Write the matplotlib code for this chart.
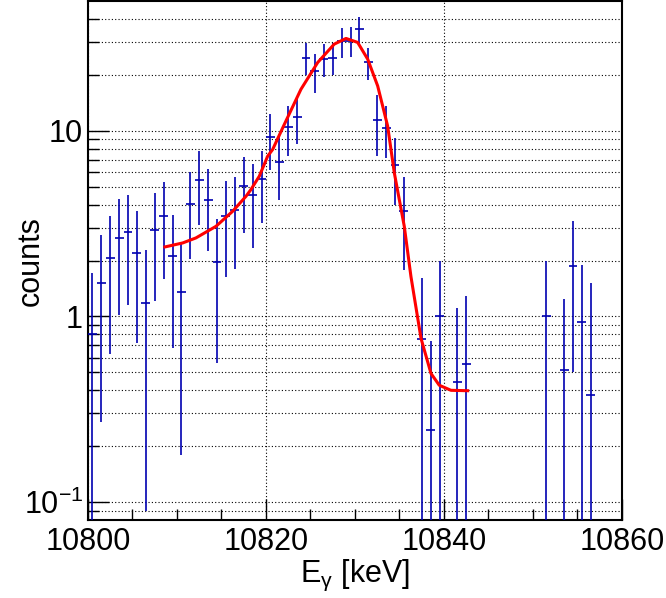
import matplotlib
matplotlib.use('Agg')
import matplotlib.pyplot as plt
from matplotlib.ticker import FixedLocator, FixedFormatter, MultipleLocator, NullFormatter

plt.rcParams['font.family'] = ['Liberation Sans', 'DejaVu Sans']
plt.rcParams['mathtext.fontset'] = 'custom'
plt.rcParams['mathtext.rm'] = 'Liberation Sans'
plt.rcParams['mathtext.it'] = 'Liberation Sans:italic'

# histogram bins (keV), contents and errors
energy = [10800.5, 10801.5, 10802.5, 10803.5, 10804.5, 10805.5, 10806.5, 10807.5,
          10808.5, 10809.5, 10810.5, 10811.5, 10812.5, 10813.5, 10814.5, 10815.5,
          10816.5, 10817.5, 10818.5, 10819.5, 10820.5, 10821.5, 10822.5, 10823.5,
          10824.5, 10825.5, 10826.5, 10827.5, 10828.5, 10829.5, 10830.5, 10831.5,
          10832.5, 10833.5, 10834.5, 10835.5, 10837.5, 10838.5, 10839.5, 10841.5,
          10842.5, 10851.5, 10853.5, 10854.5, 10855.5, 10856.5]
counts = [0.80, 1.51, 2.06, 2.65, 2.85, 2.20, 1.18, 2.91, 3.46, 2.11,
          1.35, 4.04, 5.45, 4.26, 1.96, 3.49, 3.73, 5.03, 4.50, 5.51,
          9.26, 6.84, 10.5, 11.9, 24.8, 21.0, 24.4, 24.8, 30.4, 30.7,
          35.2, 23.4, 11.5, 10.4, 6.59, 3.72, 0.753, 0.244, 1.00, 0.443,
          0.552, 1.00, 0.516, 1.88, 0.934, 0.378]
errors = [0.92, 1.24, 1.43, 1.63, 1.69, 1.48, 1.09, 1.70, 1.87, 1.43,
          1.17, 2.00, 2.33, 2.00, 1.40, 1.86, 1.92, 2.22, 2.15, 2.33,
          3.07, 2.62, 3.19, 3.37, 4.85, 4.90, 5.00, 4.90, 5.60, 5.60,
          5.80, 4.60, 4.20, 3.25, 2.58, 1.93, 0.868, 0.497, 1.00, 0.665,
          0.744, 1.00, 0.723, 1.38, 0.964, 1.134]

# fit curve
fit_e = [10808.65, 10810.64, 10812.13, 10814.38, 10816.26, 10817.75, 10818.31,
         10819.25, 10820.19, 10820.75, 10822.06, 10823.93, 10825.81, 10827.67,
         10828.99, 10830.30, 10831.43, 10832.55, 10833.67, 10834.42, 10835.54,
         10836.29, 10837.42, 10838.54, 10839.47, 10840.79, 10842.66]
fit_y = [2.37, 2.49, 2.65, 3.06, 3.69, 4.44, 4.83, 5.70, 7.31, 7.94, 10.84,
         16.76, 23.37, 29.35, 31.5, 29.99, 24.35, 17.47, 10.62, 5.94, 3.06,
         1.64, 0.762, 0.493, 0.426, 0.40, 0.398]

fig = plt.figure(figsize=(6.66, 5.98), dpi=100)
ax = fig.add_axes([0.1321, 0.1304, 0.8018, 0.8676])

ax.errorbar(energy, counts, xerr=0.5, yerr=errors, fmt='none',
            ecolor='#0000b0', elinewidth=1.2, capsize=0, zorder=3)
ax.plot(fit_e, fit_y, color='red', lw=2.2, zorder=4)

ax.set_yscale('log')
ax.set_xlim(10800, 10860)
ax.set_ylim(0.08, 50)

ax.xaxis.set_major_locator(MultipleLocator(20))
ax.xaxis.set_minor_locator(MultipleLocator(5))
ax.yaxis.set_major_locator(FixedLocator([0.1, 1, 10]))
ax.yaxis.set_major_formatter(FixedFormatter(['10$^{-1}$', '1', '10']))
minors = [0.09] + [k / 10 for k in range(2, 10)] + list(range(2, 10)) + [20, 30, 40]
ax.yaxis.set_minor_locator(FixedLocator(minors))
ax.yaxis.set_minor_formatter(NullFormatter())

ax.tick_params(which='both', direction='in', top=False, right=False, labelsize=22)
ax.tick_params(which='major', length=15, width=1)
ax.tick_params(which='minor', length=8, width=1)
ax.tick_params(axis='x', pad=5)

ax.grid(True, which='major', axis='x', color='black', ls=(0, (1, 2)), lw=0.8)
ax.grid(True, which='both', axis='y', color='black', ls=(0, (1, 2)), lw=0.8)
for s in ax.spines.values():
    s.set_linewidth(1.5)

ax.set_xlabel(r'E$_{\mathrm{γ}}$ [keV]', fontsize=22)
ax.set_ylabel('counts', fontsize=22)
ax.xaxis.set_label_coords(0.5, -0.072)
ax.yaxis.set_label_coords(-0.08, 0.5)

fig.savefig('out.png', dpi=100)
